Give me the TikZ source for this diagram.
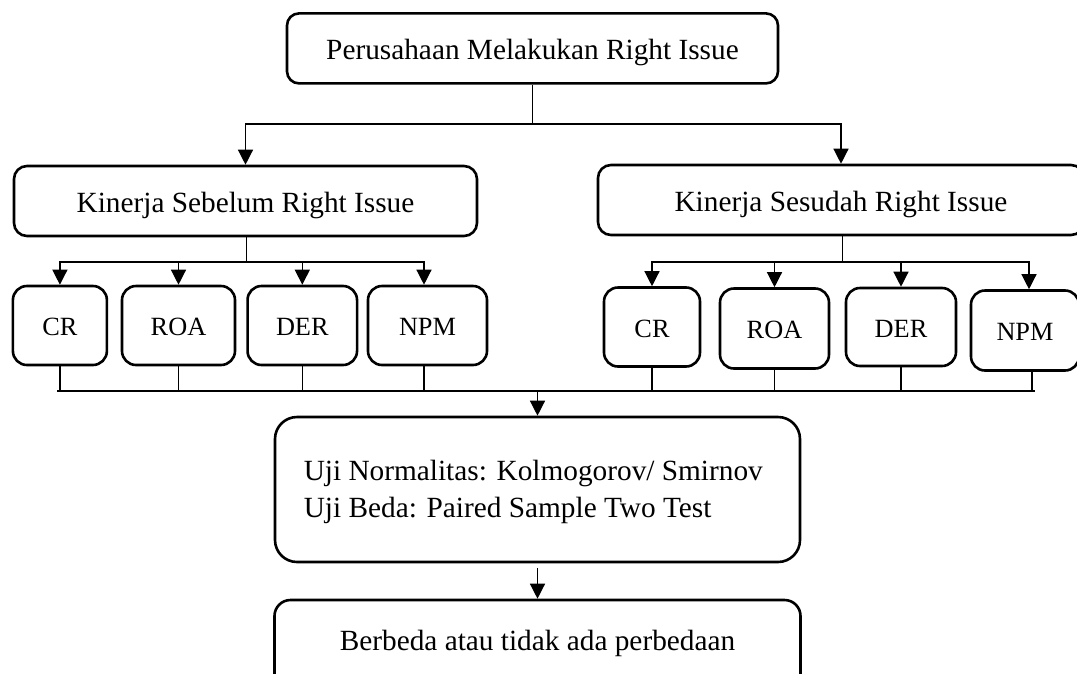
\documentclass[tikz,border=0pt]{standalone}
\usepackage{fontspec}
\setmainfont{Liberation Serif}
\usetikzlibrary{arrows.meta}
\begin{document}
\begin{tikzpicture}[x=1pt,y=-1pt,
  box/.style={draw, line width=2.6pt, inner sep=0pt, font=\fontsize{29.3}{35}\selectfont, text height=22pt, text depth=0pt},
  sbox/.style={box, rounded corners=14pt, font=\fontsize{26.3}{32}\selectfont, text height=20pt},
  conn/.style={line width=1.3pt},
  arr/.style={conn, -{Triangle[width=15pt,length=15pt]}}
]
\useasboundingbox (0,0) rectangle (1077,673);
\clip (0,0) rectangle (1077,673);

% top
\node[box, rounded corners=12pt, minimum width=491pt, minimum height=70pt] (top) at (532.5,48.4) {Perusahaan Melakukan Right Issue};

% middle
\node[box, rounded corners=13pt, minimum width=463pt, minimum height=70pt] (kl) at (245.5,201) {Kinerja Sebelum Right Issue};
\node[box, rounded corners=13pt, minimum width=486pt, minimum height=70pt] (kr) at (841,200) {Kinerja Sesudah Right Issue};

% small boxes left
\node[sbox, minimum width=94pt, minimum height=79pt] (lcr) at (59.9,325.5) {CR};
\node[sbox, minimum width=113pt, minimum height=79pt] (lroa) at (178.5,325.5) {ROA};
\node[sbox, minimum width=109.5pt, minimum height=79pt] (lder) at (302.3,325.5) {DER};
\node[sbox, minimum width=119pt, minimum height=79pt] (lnpm) at (427.5,325.5) {NPM};

% small boxes right
\node[sbox, minimum width=96pt, minimum height=79pt] (rcr) at (652,327) {CR};
\node[sbox, minimum width=109pt, minimum height=80pt] (rroa) at (774.5,328.5) {ROA};
\node[sbox, minimum width=110pt, minimum height=78pt] (rder) at (901,327) {DER};
\node[sbox, minimum width=108pt, minimum height=80pt] (rnpm) at (1025,330.5) {NPM};

% test box
\node[box, rounded corners=22pt, minimum width=525pt, minimum height=145pt] (uji) at (537.5,489.5) {};
\node[anchor=base west, inner sep=0pt, font=\fontsize{29.3}{37}\selectfont] (ujitext) at (303.6,480)
  {\begin{tabular}[t]{@{}l@{}}Uji Normalitas: Kolmogorov/ Smirnov\\Uji Beda: Paired Sample Two Test\end{tabular}};

% result box
\node[box, rounded corners=16pt, minimum width=526pt, minimum height=90pt, text height=10pt] (res) at (537.5,645) {Berbeda atau tidak ada perbedaan};

% connectors top
\coordinate (j1) at (532.5,124);
\draw[conn] (top.south) -- (j1);
\draw[arr] (j1) -| (kl.north);
\draw[arr] (j1) -| (kr.north);

% connectors left group
\coordinate (jl) at (246.7,262);
\draw[conn] (kl.south -| jl) -- (jl);
\draw[arr] (jl) -| (lcr.north);
\draw[arr] (jl) -| (lroa.north);
\draw[arr] (jl) -| (lder.north);
\draw[arr] (jl) -| ([xshift=-3.5pt]lnpm.north);

% connectors right group
\coordinate (jr) at (842.7,262);
\draw[conn] (kr.south -| jr) -- (jr);
\draw[arr] (jr) -| (rcr.north);
\draw[arr] (jr) -| (rroa.north);
\draw[arr] (jr) -| (rder.north);
\draw[arr] (jr) -| ([xshift=4pt]rnpm.north);

% collector bus
\coordinate (busL) at (57,391);
\coordinate (busR) at (1035,391);
\coordinate (busM) at (537.5,391);
\draw[conn] (busL) -- (busR);
\draw[conn] (lcr.south) -- (lcr.south |- busL);
\draw[conn] (lroa.south) -- (lroa.south |- busL);
\draw[conn] (lder.south) -- (lder.south |- busL);
\draw[conn] ([xshift=-3.5pt]lnpm.south) -- ([xshift=-3.5pt]lnpm.south |- busL);
\draw[conn] (rcr.south) -- (rcr.south |- busL);
\draw[conn] (rroa.south) -- (rroa.south |- busL);
\draw[conn] (rder.south) -- (rder.south |- busL);
\draw[conn] ([xshift=7pt]rnpm.south) -- ([xshift=7pt]rnpm.south |- busL);

% down arrows
\draw[arr] (busM) -- (uji.north);
\draw[arr, shorten <=4.5pt] (uji.south) -- (res.north);
\end{tikzpicture}
\end{document}
